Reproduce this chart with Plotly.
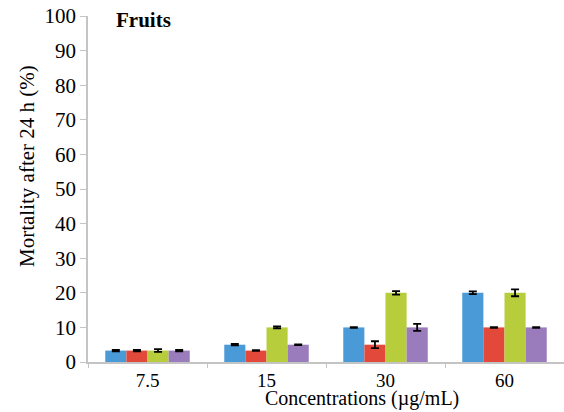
import plotly.graph_objects as go

concentrations = ["7.5", "15", "30", "60"]
series_names = ["A", "B", "C", "D"]
series_colors = ["#4A9AD8", "#E2493A", "#B7CD3C", "#9A7CBD"]
values = [
    [3.3, 5.0, 10.0, 20.0],
    [3.3, 3.3, 5.0, 10.0],
    [3.3, 10.0, 20.0, 20.0],
    [3.3, 5.0, 10.0, 10.0],
]
errors = [
    [0.2, 0.2, 0.1, 0.4],
    [0.2, 0.1, 1.0, 0.1],
    [0.4, 0.3, 0.5, 1.0],
    [0.2, 0.1, 1.0, 0.1],
]

fig = go.Figure()
for name, color, vals, errs in zip(series_names, series_colors, values, errors):
    fig.add_trace(go.Bar(
        x=concentrations, y=vals, name=name,
        marker=dict(color=color, line=dict(width=0)),
        error_y=dict(type="data", array=errs, visible=True,
                     color="black", thickness=1.8, width=4),
    ))

serif = "Liberation Serif"
fig.update_layout(
    width=564, height=412,
    margin=dict(l=88, r=0, t=16, b=50),
    paper_bgcolor="white", plot_bgcolor="white",
    barmode="group", bargap=0.29, bargroupgap=0,
    showlegend=False,
    font=dict(family=serif, color="black", size=20),
    xaxis=dict(
        type="category", showgrid=False, showline=True,
        linecolor="#C4C4C4", linewidth=1.5,
        ticks="outside", tickson="boundaries", ticklen=4, tickcolor="#C4C4C4",
        tickfont=dict(family=serif, size=19),
    ),
    yaxis=dict(
        range=[0, 100], dtick=10, showgrid=False, showline=True,
        linecolor="#C4C4C4", linewidth=1.5,
        ticks="outside", ticklen=6, tickcolor="#C4C4C4",
        tickfont=dict(family=serif, size=21),
        zeroline=False,
    ),
    annotations=[
        dict(text="<b>Fruits</b>", x=114, y=406, showarrow=False,
             xanchor="left", yanchor="top",
             font=dict(family=serif, size=21, color="black")),
        dict(text="Concentrations (µg/mL)", x=362, y=0, showarrow=False,
             xanchor="center", yanchor="bottom",
             font=dict(family=serif, size=20, color="black")),
        dict(text="Mortality after 24 h (%)", x=27, y=246, textangle=-90,
             showarrow=False, xanchor="center", yanchor="middle",
             font=dict(family=serif, size=21, color="black")),
    ],
)

# annotation positions are given in page pixels; convert to paper coords
plot_w = 564 - 88
plot_h = 412 - 16 - 50
for ann in fig.layout.annotations:
    ann.xref = "paper"
    ann.yref = "paper"
    ann.x = (ann.x - 88) / plot_w
    ann.y = (ann.y - 50) / plot_h

fig.write_html("out.html")
